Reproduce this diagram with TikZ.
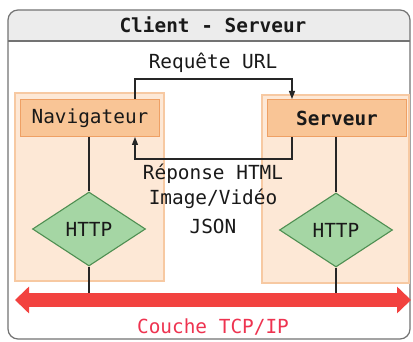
\documentclass[tikz,border=0pt]{standalone}
\usepackage{fontspec}
\setmonofont{DejaVu Sans Mono}
\usetikzlibrary{shapes.geometric,arrows.meta}
\definecolor{panelfill}{HTML}{FDE8D6}
\definecolor{paneldraw}{HTML}{F7C9A2}
\definecolor{boxfill}{HTML}{F9C596}
\definecolor{boxdraw}{HTML}{EFA064}
\definecolor{dfill}{HTML}{A5D6A4}
\definecolor{ddraw}{HTML}{4F8F52}
\definecolor{redarrow}{HTML}{F2423F}
\definecolor{redtext}{HTML}{EE3350}
\definecolor{titlebg}{HTML}{ECECEC}
\begin{document}
\begin{tikzpicture}[x=1pt,y=-1pt,
  every node/.style={font=\ttfamily\fontsize{19.4}{23}\selectfont, text=black!90},
  boldtext/.style={font=\ttfamily\bfseries\fontsize{19.4}{23}\selectfont},
  panel/.style={fill=panelfill, draw=paneldraw, line width=1.2pt},
  boxnode/.style={fill=boxfill, draw=boxdraw, line width=1pt, minimum width=139pt, minimum height=37pt, inner sep=0pt},
  proto/.style={diamond, aspect=1.55, fill=dfill, draw=ddraw, line width=1.1pt, minimum width=113pt, minimum height=74pt, inner sep=0pt},
  conn/.style={line width=1.3pt, draw=black!85},
  flow/.style={line width=1.3pt, draw=black!85, -{Triangle[length=8pt,width=6pt]}}]
\useasboundingbox (0,0) rectangle (413,342);
% outer frame
\fill[white] (0,0) rectangle (413,342);
\begin{scope}
\clip[rounded corners=10pt] (8,10) rectangle (410,339);
\fill[titlebg] (8,10) rectangle (410,41);
\end{scope}
\draw[black!55, line width=1.2pt, rounded corners=10pt] (8,10) rectangle (410,339);
\draw[black!55, line width=1.6pt] (8,41) -- (410,41);
\node[boldtext] (title) at (213,25) {Client - Serveur};
% panels
\fill[panel] (15,93) rectangle (164,281);
\fill[panel] (262,95) rectangle (409,283);
% boxes
\node[boxnode] (nav) at (90,118) {Navigateur};
\node[boxnode, boldtext] (srv) at (337,118) {Serveur};
% diamonds
\node[proto] (h1) at (89,229) {HTTP};
\node[proto] (h2) at (336,230) {HTTP};
% TCP arrow
\coordinate (tl) at (15,300);
\coordinate (tr) at (411,300);
\draw[redarrow, line width=14pt, {Triangle[length=14pt,width=26pt]}-{Triangle[length=14pt,width=26pt]}] (tl) -- (tr);
\coordinate (b1) at (89,293);
\coordinate (b2) at (336,293);
\draw[conn] (nav.south -| h1.north) -- (h1.north);
\draw[conn] (h1.south) -- (b1);
\draw[conn] (srv.south -| h2.north) -- (h2.north);
\draw[conn] (h2.south) -- (b2);
% request / response
\draw[flow] ([xshift=45pt]nav.north) -- ++(0,-20) -| ([xshift=-45pt]srv.north);
\draw[flow] ([xshift=-45pt]srv.south) -- ++(0,22) -| ([xshift=45pt]nav.south);
\node (req) at (213,63) {Requête URL};
\node (rep) at (213,174) {Réponse HTML};
\node (img) at (213,199) {Image/Vidéo};
\node (json) at (213,226) {JSON};
\node[text=redtext] (tcp) at (213,327) {Couche TCP/IP};
\end{tikzpicture}
\end{document}
